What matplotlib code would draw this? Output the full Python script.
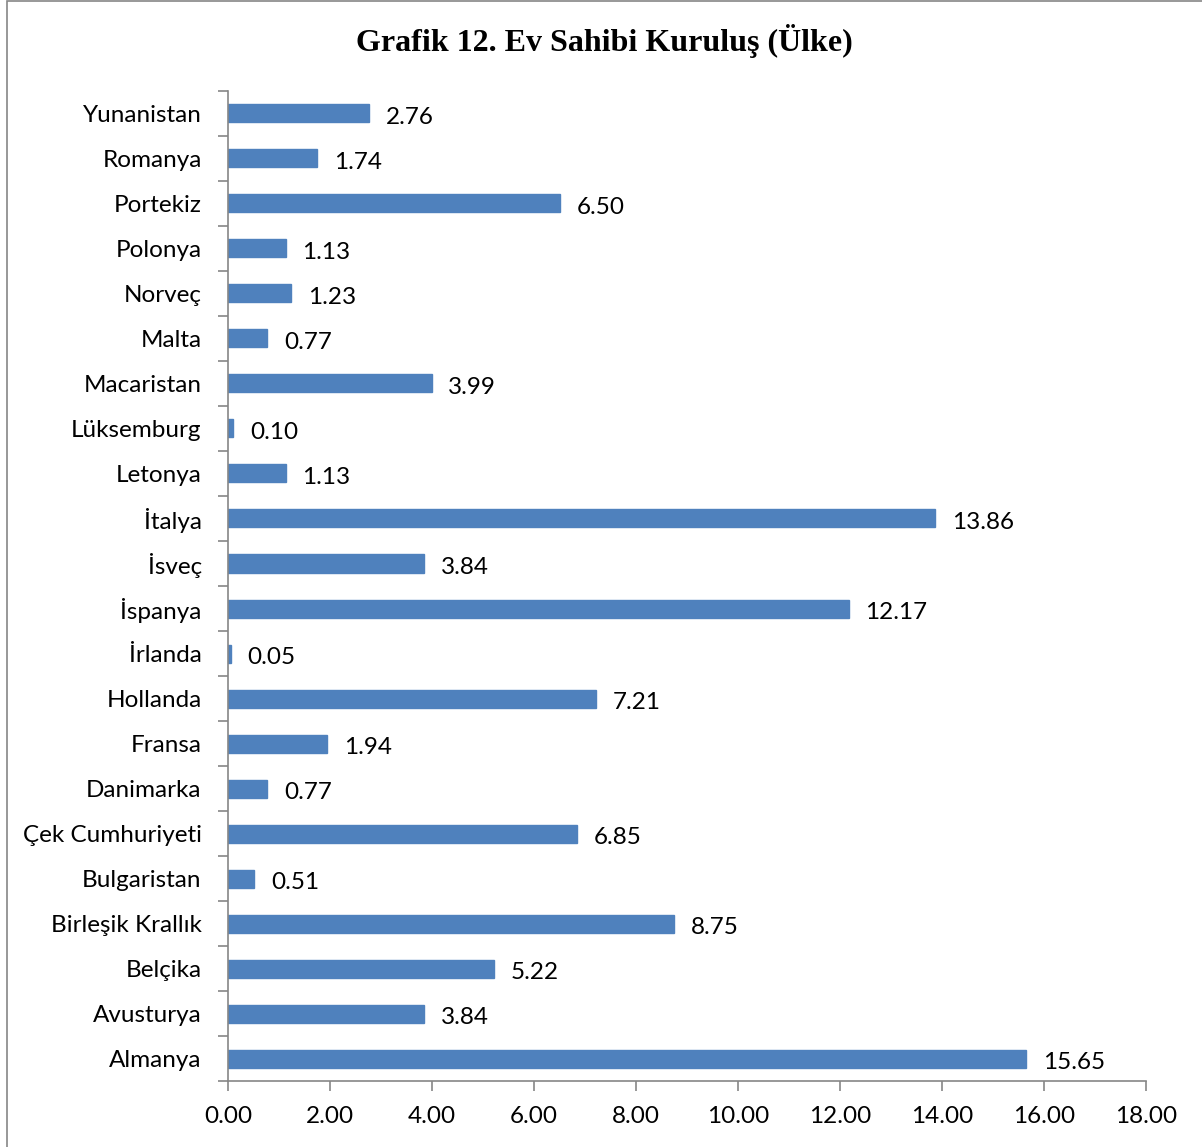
import numpy as np
import matplotlib.pyplot as plt
from matplotlib.patches import Rectangle

countries = ['Almanya', 'Avusturya', 'Belçika', 'Birleşik Krallık', 'Bulgaristan',
             'Çek Cumhuriyeti', 'Danimarka', 'Fransa', 'Hollanda', 'İrlanda',
             'İspanya', 'İsveç', 'İtalya', 'Letonya', 'Lüksemburg', 'Macaristan',
             'Malta', 'Norveç', 'Polonya', 'Portekiz', 'Romanya', 'Yunanistan']
values = [15.65, 3.84, 5.22, 8.75, 0.51, 6.85, 0.77, 1.94, 7.21, 0.05,
          12.17, 3.84, 13.86, 1.13, 0.10, 3.99, 0.77, 1.23, 1.13, 6.50, 1.74, 2.76]
xticks = np.arange(0, 18.01, 2)

plt.rcParams['font.family'] = ['Lato', 'DejaVu Sans']

fig = plt.figure(figsize=(12.02, 11.47), dpi=100)
ax = fig.add_axes([0.1897, 0.0575, 0.7637, 0.8632])

fs = 17.5
y = np.arange(len(countries))
ax.barh(y, values, height=0.4, color='#4F81BD', edgecolor='#4F81BD')
for yi, v in zip(y, values):
    ax.text(v + 0.33, yi - 0.04, f'{v:.2f}', va='center_baseline', ha='left', fontsize=fs)

ax.set_xlim(0, 18)
ax.set_ylim(-0.5, len(countries) - 0.5)
ax.set_xticks(xticks)
ax.set_xticklabels([f'{t:.2f}' for t in xticks], fontsize=fs)
ax.set_yticks(y)
ax.set_yticklabels(countries, fontsize=fs)
ax.set_yticks(np.arange(-0.5, len(countries)), minor=True)
ax.tick_params(axis='y', which='major', length=0, pad=19)
ax.tick_params(axis='y', which='minor', length=7, direction='out', color='#868686', width=1.2)
ax.tick_params(axis='x', length=7, direction='out', color='#868686', width=1.2, pad=11)

for s in ['top', 'right']:
    ax.spines[s].set_visible(False)
for s in ['left', 'bottom']:
    ax.spines[s].set_color('#868686')
    ax.spines[s].set_linewidth(1.2)

fig.text(0.503, 0.964, 'Grafik 12. Ev Sahibi Kuruluş (Ülke)', ha='center', va='center',
         fontsize=23, fontweight='bold', family=['Liberation Serif', 'DejaVu Serif'])

fig.patches.append(Rectangle((0.006, -0.01), 1.0, 1.009, transform=fig.transFigure,
                             fill=False, edgecolor='#868686', linewidth=1.2))

fig.savefig('out.png', dpi=100)
